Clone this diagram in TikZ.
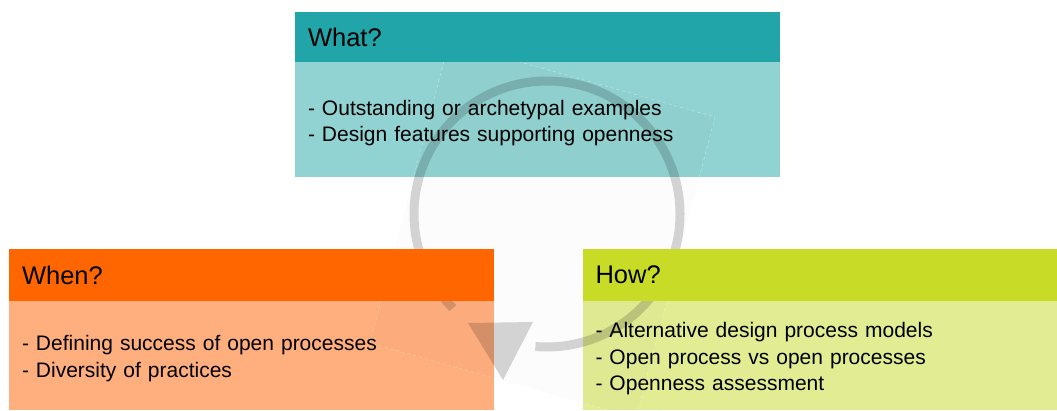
\documentclass[tikz,border=0pt]{standalone}
\usepackage{fontspec}
\setmainfont{Liberation Sans}
\usepackage{tikz}
\definecolor{whatdark}{HTML}{22A5A8}
\definecolor{whatlight}{HTML}{91D3D2}
\definecolor{whendark}{HTML}{FF6600}
\definecolor{whenlight}{HTML}{FFAE7E}
\definecolor{howdark}{HTML}{C8DC27}
\definecolor{howlight}{HTML}{E1EC93}

\begin{document}
\begin{tikzpicture}[x=1pt,y=1pt,
  head/.style={anchor=north west,outer sep=0pt,inner xsep=13pt,align=left,font=\fontsize{25.5}{30}\selectfont},
  body/.style={anchor=north west,outer sep=0pt,inner xsep=13pt,align=left,font=\fontsize{21}{26.7}\selectfont}]
\useasboundingbox (0,0) rectangle (1057,410);
\fill[white] (0,0) rectangle (1057,410);
% light parts first
\node[body,fill=whatlight,text width=459pt,minimum width=485pt,minimum height=114.5pt] (whatBody)at(295,347.5){\rule{0pt}{22pt}- Outstanding or archetypal examples\\- Design features supporting openness};
\node[body,fill=whenlight,text width=459pt,minimum width=485pt,minimum height=109.3pt] (whenBody)at(9,109.3){\rule{0pt}{22pt}- Defining success of open processes\\- Diversity of practices};
\node[body,fill=howlight,text width=448.5pt,minimum width=474.5pt,minimum height=109.3pt] (howBody)at(582.5,109.3){\rule{0pt}{22pt}- Alternative design process models\\- Open process vs open processes\\- Openness assessment};
% faint tilted square behind the cycle
\begin{scope}
\clip (0,0) rectangle (1057,410);
\draw[white,draw opacity=.5,dashed,line width=.4pt,fill=black,fill opacity=.012] (449,368)--(715,293)--(636,-8)--(370,67)--cycle;
\end{scope}
% cycle arrow
\draw[line width=9pt,black,draw opacity=.16] ([shift={(225:133)}]547,196) arc[start angle=225,end angle=-95,radius=133];
\fill[black,fill opacity=.16] (468,87)--(533,88)--(503,30)--cycle;
% headers on top
\node[head,fill=whatdark,text width=459pt,minimum width=485pt,minimum height=50.5pt] (whatHead)at(295,398){What?};
\node[head,fill=whendark,text width=459pt,minimum width=485pt,minimum height=51.4pt] (whenHead)at(9,160.7){When?};
\node[head,fill=howdark,text width=448.5pt,minimum width=474.5pt,minimum height=51.4pt] (howHead)at(582.5,160.7){How?};
\end{tikzpicture}
\end{document}
